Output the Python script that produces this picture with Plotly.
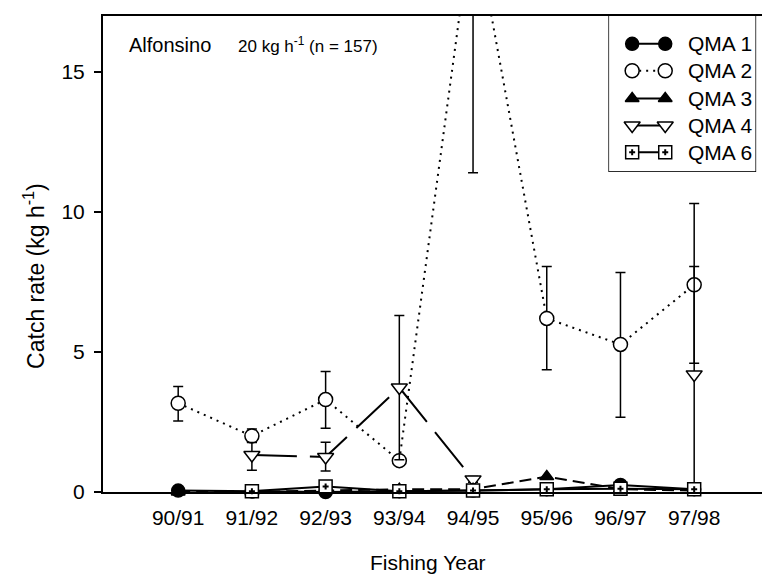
import plotly.graph_objects as go

# Fishing years (category axis)
years = ["90/91", "91/92", "92/93", "93/94", "94/95", "95/96", "96/97", "97/98"]
idx = list(range(len(years)))

# Mean catch rates (kg/h) by QMA, with asymmetric error bars
qma1 = [0.05, 0.02, 0.0, 0.03, 0.05, 0.1, 0.25, 0.1]

qma2 = [3.17, 2.0, 3.3, 1.12, 20.6, 6.2, 5.27, 7.4]
qma2_up = [0.6, 0.25, 1.0, 0.1, 9.2, 1.85, 2.57, 2.9]
qma2_dn = [0.63, 0.22, 1.02, 0.1, 9.2, 1.83, 2.6, 2.8]

qma3 = [0.0, 0.0, 0.05, 0.1, 0.1, 0.55, 0.1, 0.05]

qma4 = [None, 1.32, 1.25, 3.73, 0.45, None, None, 4.2]
qma4_up = [0, 0.45, 0.53, 2.57, 0.1, 0, 0, 3.85]
qma4_dn = [0, 0.54, 0.5, 2.58, 0.1, 0, 0, 4.2]

qma6 = [None, 0.03, 0.2, 0.03, 0.05, 0.1, 0.12, 0.1]

series_names = ["QMA 1", "QMA 2", "QMA 3", "QMA 4", "QMA 6"]
y_ticks = [0, 5, 10, 15]

FONT = "Liberation Sans, Arial, sans-serif"
BLACK = "black"

styles = {
    "QMA 1": dict(symbol="circle", color=BLACK, dash="solid", size=13),
    "QMA 2": dict(symbol="circle", color="white", dash="2px,5px", size=14),
    "QMA 3": dict(symbol="triangle-up", color=BLACK, dash="12px,6px", size=12),
    "QMA 4": dict(symbol="triangle-down", color="white", dash="45px,13px", size=14),
    "QMA 6": dict(symbol="square", color="white", dash="solid", size=13),
}

fig = go.Figure()


def add_series(name, y, up=None, dn=None, clip=True):
    st = styles[name]
    err = None
    if up is not None:
        err = dict(type="data", symmetric=False, array=up, arrayminus=dn,
                   color=BLACK, thickness=1.5, width=5)
    fig.add_trace(go.Scatter(
        x=idx, y=y, name=name, mode="lines+markers", showlegend=False,
        line=dict(color=BLACK, width=2, dash=st["dash"]),
        marker=dict(symbol=st["symbol"], size=st["size"], color=st["color"],
                    line=dict(color=BLACK, width=1.5)),
        error_y=err, cliponaxis=clip,
    ))


add_series("QMA 2", qma2, qma2_up, qma2_dn)
add_series("QMA 4", qma4, qma4_up, qma4_dn)
add_series("QMA 1", qma1, clip=False)
add_series("QMA 3", qma3, clip=False)
add_series("QMA 6", qma6, clip=False)
# small plus inside each QMA 6 square
fig.add_trace(go.Scatter(
    x=idx, y=qma6, mode="markers", showlegend=False, cliponaxis=False,
    marker=dict(symbol="cross", size=5, color=BLACK, line=dict(width=0)),
))

# Hand-built legend on its own small subplot (pixel-like units)
legend_rows = [28, 55, 83, 110, 137]
for name, row in zip(series_names, legend_rows):
    st = styles[name]
    fig.add_trace(go.Scatter(
        x=[23, 56], y=[row, row], mode="lines+markers", showlegend=False,
        xaxis="x2", yaxis="y2",
        line=dict(color=BLACK, width=2, dash="solid" if name != "QMA 2" else "2px,5px"),
        marker=dict(symbol=st["symbol"], size=st["size"], color=st["color"],
                    line=dict(color=BLACK, width=1.5)),
    ))
    if name == "QMA 6":
        fig.add_trace(go.Scatter(
            x=[23, 56], y=[row, row], mode="markers", showlegend=False,
            xaxis="x2", yaxis="y2",
            marker=dict(symbol="cross", size=5, color=BLACK, line=dict(width=0)),
        ))
    fig.add_annotation(x=77, y=row, xref="x2", yref="y2", text=name,
                       showarrow=False, xanchor="left", yanchor="middle",
                       font=dict(family=FONT, size=21, color=BLACK))

fig.add_shape(type="rect", xref="x2 domain", yref="y2 domain",
              x0=0, x1=1, y0=0, y1=1, line=dict(color=BLACK, width=1.5),
              layer="below")

fig.add_annotation(x=0.0364, y=0.939, xref="paper", yref="paper",
                   text="Alfonsino", showarrow=False, xanchor="left",
                   yanchor="middle", font=dict(family=FONT, size=20, color=BLACK))
fig.add_annotation(x=0.2018, y=0.939, xref="paper", yref="paper",
                   text="20 kg h<sup>-1</sup> (n = 157)", showarrow=False,
                   xanchor="left", yanchor="middle",
                   font=dict(family=FONT, size=17, color=BLACK))
fig.add_annotation(x=-0.104, y=0.455, xref="paper", yref="paper",
                   text="Catch rate (kg h<sup>-1</sup>)", showarrow=False,
                   textangle=-90, xanchor="center", yanchor="middle",
                   font=dict(family=FONT, size=23, color=BLACK))
fig.add_annotation(x=0.493, y=-0.149, xref="paper", yref="paper",
                   text="Fishing Year", showarrow=False,
                   xanchor="center", yanchor="middle",
                   font=dict(family=FONT, size=21, color=BLACK))

fig.update_layout(
    width=762, height=576,
    margin=dict(l=103, r=0, t=16, b=84),
    paper_bgcolor="white", plot_bgcolor="white",
    font=dict(family=FONT, size=21, color=BLACK),
    xaxis=dict(range=[-1.02, 7.92], tickvals=idx, ticktext=years,
               showline=True, linecolor=BLACK, linewidth=2, mirror=True,
               ticks="", showgrid=False, zeroline=False,
               ticklabelstandoff=6,
               tickfont=dict(family=FONT, size=21, color=BLACK)),
    yaxis=dict(range=[0, 17], tickvals=y_ticks, showline=True,
               linecolor=BLACK, linewidth=2, ticks="outside", ticklen=7,
               tickwidth=1.5, tickcolor=BLACK, showgrid=False, zeroline=False,
               ticklabelstandoff=5,
               tickfont=dict(family=FONT, size=21, color=BLACK)),
    xaxis2=dict(domain=[0.768, 0.99], anchor="y2", range=[0, 146],
                visible=False, fixedrange=True),
    yaxis2=dict(domain=[0.674, 1.0], anchor="x2", range=[156, 0],
                visible=False, fixedrange=True),
)

fig.write_html("out.html")
